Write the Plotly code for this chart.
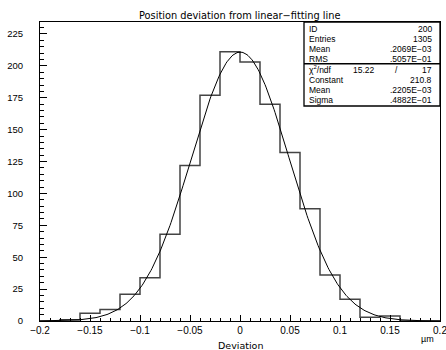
import plotly.graph_objects as go
import numpy as np

# ---- data ----
bin_edges = [-0.20, -0.18, -0.16, -0.14, -0.12, -0.10, -0.08, -0.06, -0.04, -0.02, 0.00,
             0.02, 0.04, 0.06, 0.08, 0.10, 0.12, 0.14, 0.16, 0.18, 0.20]
counts = [0, 1, 6, 9, 21, 34, 68, 122, 177, 211, 203, 170, 132, 88, 36, 17, 3, 4, 0, 0]

# fit parameters (from the stats box)
fit_constant = 210.8
fit_mean = 0.2205e-03
fit_sigma = 0.4882e-01

stats_top_labels = ["ID", "Entries", "Mean", "RMS"]
stats_top_values = ["200", "1305", ".2069E\u221203", ".5057E\u221201"]
stats_fit_labels = ["Constant", "Mean", "Sigma"]
stats_fit_values = ["210.8", ".2205E\u221203", ".4882E\u221201"]
chi2_value = "15.22"
ndf_value = "17"

xtick_vals = [-0.2, -0.15, -0.1, -0.05, 0, 0.05, 0.1, 0.15, 0.2]
xtick_text = ["\u22120.2", "\u22120.15", "\u22120.1", "\u22120.05", "0", "0.05", "0.1", "0.15", "0.2"]
ytick_vals = [0, 25, 50, 75, 100, 125, 150, 175, 200, 225]

FONT = "Liberation Sans"
WIDE = "DejaVu Sans"

fig = go.Figure()

# histogram outline as a step line
hx = list(bin_edges)
hy = list(counts) + [counts[-1]]
fig.add_trace(go.Scatter(x=hx, y=hy, mode="lines", line=dict(shape="hv", color="#444", width=1.5),
                         hoverinfo="skip", showlegend=False))

# gaussian fit curve
fx = np.linspace(bin_edges[0], bin_edges[-1], 401)
fy = fit_constant * np.exp(-0.5 * ((fx - fit_mean) / fit_sigma) ** 2)
fig.add_trace(go.Scatter(x=fx, y=fy, mode="lines", line=dict(color="black", width=1),
                         hoverinfo="skip", showlegend=False))

fig.update_layout(
    width=446, height=350,
    margin=dict(l=40, r=6, t=22, b=29, autoexpand=False),
    paper_bgcolor="white", plot_bgcolor="white",
    font=dict(family=FONT, size=9, color="black"),
    showlegend=False,
)
fig.update_xaxes(
    range=[-0.2, 0.2], tickmode="array", tickvals=xtick_vals, ticktext=xtick_text,
    ticks="inside", ticklen=6, tickcolor="black", tickwidth=1,
    minor=dict(dtick=0.01, ticks="inside", ticklen=3, tickcolor="black"),
    showline=True, linecolor="black", linewidth=1, mirror=True,
    showgrid=False, zeroline=False, tickfont=dict(size=10), ticklabeloverflow="allow",
    automargin=False,
)
fig.update_yaxes(
    range=[0, 234.4], tickmode="array", tickvals=ytick_vals,
    ticks="inside", ticklen=7, tickcolor="black", tickwidth=1,
    minor=dict(dtick=5, ticks="inside", ticklen=3.5, tickcolor="black"),
    showline=True, linecolor="black", linewidth=1, mirror=True,
    showgrid=False, zeroline=False, ticklabelstandoff=14, tickfont=dict(size=9.5),
    automargin=False,
)

def py(px):
    return (321 - px) / 299.0

def pxx(px):
    return (px - 40) / 400.0

ann = []
ann.append(dict(text="Position deviation from linear\u2212fitting line", x=0.5, y=py(15),
                xref="paper", yref="paper", showarrow=False, xanchor="center", yanchor="middle",
                font=dict(family=WIDE, size=9.8)))
ann.append(dict(text="Deviation", x=0.5, y=py(345), xref="paper", yref="paper", showarrow=False,
                xanchor="center", yanchor="middle", font=dict(family=WIDE, size=9.5)))
ann.append(dict(text="\u00b5m", x=pxx(427), y=py(339), xref="paper", yref="paper", showarrow=False,
                xanchor="center", yanchor="middle", font=dict(size=9)))

# stats box
box_l, box_r, box_t, box_sep, box_b = pxx(304), 1.0, 1.0, py(63.7), py(106)
shapes = [
    dict(type="rect", xref="paper", yref="paper", x0=box_l, x1=box_r, y0=box_b, y1=box_t,
         line=dict(color="black", width=1.3), fillcolor="white", layer="above"),
    dict(type="line", xref="paper", yref="paper", x0=box_l, x1=box_r, y0=box_sep, y1=box_sep,
         line=dict(color="black", width=1.5), layer="above"),
]
SF = 8.5
row_y_top = [28.7, 38.7, 48.7, 58.7]
row_y_fit = [79.7, 89.7, 100]
lx, rx = pxx(307), pxx(434)
for lab, val, yy in zip(stats_top_labels, stats_top_values, row_y_top):
    ann.append(dict(text=lab, x=lx, y=py(yy), xref="paper", yref="paper", showarrow=False,
                    xanchor="left", yanchor="middle", font=dict(size=SF)))
    ann.append(dict(text=val, x=rx, y=py(yy), xref="paper", yref="paper", showarrow=False,
                    xanchor="right", yanchor="middle", font=dict(size=SF)))
ann.append(dict(text="\u03c7<sup>2</sup>/ndf", x=lx, y=py(69.7), xref="paper", yref="paper",
                showarrow=False, xanchor="left", yanchor="middle", font=dict(size=SF)))
ann.append(dict(text=chi2_value, x=pxx(377), y=py(69.7), xref="paper", yref="paper",
                showarrow=False, xanchor="right", yanchor="middle", font=dict(size=SF)))
ann.append(dict(text="/", x=pxx(396), y=py(69.7), xref="paper", yref="paper",
                showarrow=False, xanchor="center", yanchor="middle", font=dict(size=SF)))
ann.append(dict(text=ndf_value, x=rx, y=py(69.7), xref="paper", yref="paper",
                showarrow=False, xanchor="right", yanchor="middle", font=dict(size=SF)))
for lab, val, yy in zip(stats_fit_labels, stats_fit_values, row_y_fit):
    ann.append(dict(text=lab, x=lx, y=py(yy), xref="paper", yref="paper", showarrow=False,
                    xanchor="left", yanchor="middle", font=dict(size=SF)))
    ann.append(dict(text=val, x=rx, y=py(yy), xref="paper", yref="paper", showarrow=False,
                    xanchor="right", yanchor="middle", font=dict(size=SF)))

fig.update_layout(annotations=ann, shapes=shapes)
fig.write_html("out.html", config={"displayModeBar": False},
               post_script="document.body.style.margin='0';document.body.style.overflow='hidden';")
